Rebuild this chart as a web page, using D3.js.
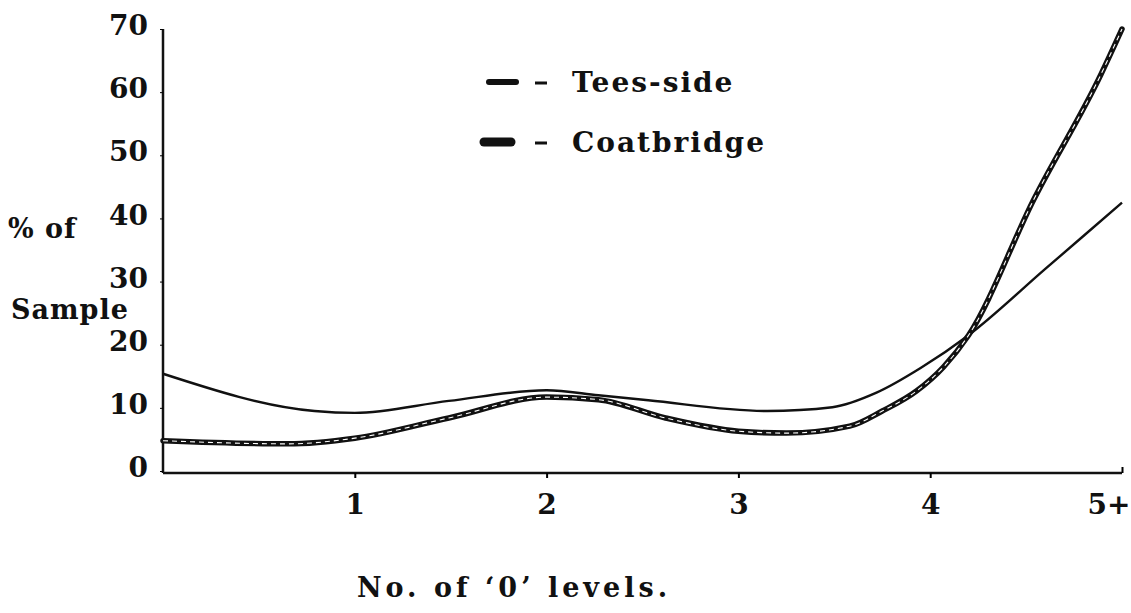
<!DOCTYPE html>
<html>
<head>
<meta charset="utf-8">
<script src="https://cdn.jsdelivr.net/npm/d3@7"></script>
<style>
body{margin:0;background:#fff;}
text{font-family:'DejaVu Serif',serif;fill:#111;font-weight:bold;}
</style>
</head>
<body>
<div id="chartContainer"></div>
<script>
// x categories and tick text
var LEVELS = [1, 2, 3, 4, 5];
var LEVEL_LABELS = ['1', '2', '3', '4', '5+'];
var PCT_TICKS = [0, 10, 20, 30, 40, 50, 60, 70];

// curves (x = no. of levels, y = % of sample)
var teesX = [0, 0.79, 1, 1.49, 2, 2.27, 2.53, 3.15, 3.49, 3.72, 3.95, 4.2, 4.6, 5];
var teesY = [15.4, 9.5, 9.2, 11.1, 12.8, 12.0, 11.2, 9.5, 10.1, 12.4, 16.3, 21.5, 32, 42.5];
var coatX = [0, 0.65, 1, 1.49, 2, 2.27, 2.62, 3, 3.25, 3.58, 3.75, 3.93, 4.07, 4.2, 4.54, 4.89, 5];
var coatY = [4.8, 4.3, 5.2, 8.4, 11.7, 11.3, 8.4, 6.3, 6.0, 7.1, 9.5, 12.7, 16.5, 21.5, 43, 62.8, 70];
var SERIES_NAMES = ['Tees-side', 'Coatbridge'];

function drawChart(){
	var width = 1131, height = 613;
	var svg = d3.select('#chartContainer').append('svg')
		.attr('width', width)
		.attr('height', height);

	var x = d3.scaleLinear().domain([0, 5]).range([163, 1122]);
	var y = d3.scaleLinear().domain([0, 70]).range([471, 29]);

	// axes drawn by hand-ish so they look like the print
	svg.append('line')
		.attr('x1', x(0)).attr('x2', x(0))
		.attr('y1', y(70)).attr('y2', y(0) + 2)
		.attr('stroke', '#111').attr('stroke-width', 2.5);
	svg.append('line')
		.attr('x1', x(0)).attr('x2', x(5))
		.attr('y1', y(0) + 2).attr('y2', y(0) + 2)
		.attr('stroke', '#111').attr('stroke-width', 2.5);

	var yAxis = d3.axisLeft(y).tickValues(PCT_TICKS).tickSize(3).tickPadding(12);
	var gy = svg.append('g').attr('transform', 'translate(' + x(0) + ',0)').call(yAxis);
	gy.select('.domain').remove();
	gy.selectAll('text')
		.attr('dy', '0.2em')
		.style('font-size', '28px')
		.style('font-weight', 'bold')
		.style('font-family', "'DejaVu Serif',serif");

	var xAxis = d3.axisBottom(x).tickValues(LEVELS)
		.tickFormat(function(d, i) { return LEVEL_LABELS[i]; })
		.tickSize(5).tickPadding(16);
	var gx = svg.append('g').attr('transform', 'translate(0,' + (y(0) + 2) + ')').call(xAxis);
	gx.select('.domain').remove();
	gx.selectAll('line').attr('stroke-width', 2);
	gx.selectAll('text')
		.style('font-size', '28px')
		.style('font-weight', 'bold')
		.style('font-family', "'DejaVu Serif',serif");
	// last tick points up, like the end mark in the print; its label is squeezed to the edge
	var lastTick = gx.selectAll('.tick').filter(function(d) { return d === 5; });
	lastTick.select('line').attr('y2', -6);
	lastTick.select('text').attr('text-anchor', 'end').attr('x', width - x(5) - 1);

	// axis titles
	svg.append('text').attr('x', 8).attr('y', 238)
		.style('font-size', '27px').style('letter-spacing', '1px').text('% of');
	svg.append('text').attr('x', 11).attr('y', 319)
		.style('font-size', '27px').style('letter-spacing', '1px').text('Sample');
	svg.append('text').attr('x', 514).attr('y', 597)
		.attr('text-anchor', 'middle')
		.style('font-size', '27px').style('letter-spacing', '4px')
		.text('No. of \u20180\u2019 levels.');

	var line = d3.line()
		.x(function(d) { return x(d[0]); })
		.y(function(d) { return y(d[1]); })
		.curve(d3.curveMonotoneX);

	var teesData = teesX.map(function(v, i) { return [v, teesY[i]]; });
	var coatData = coatX.map(function(v, i) { return [v, coatY[i]]; });

	svg.append('path').datum(teesData)
		.attr('d', line)
		.attr('fill', 'none').attr('stroke', '#111').attr('stroke-width', 2.4);

	svg.append('path').datum(coatData)
		.attr('d', line)
		.attr('fill', 'none').attr('stroke', '#111').attr('stroke-width', 5.5)
		.attr('stroke-linecap', 'round');
	// white core of the double-ruled line
	svg.append('path').datum(coatData)
		.attr('d', line)
		.attr('fill', 'none').attr('stroke', '#fff').attr('stroke-width', 1.1)
		.attr('stroke-dasharray', '5,4');

	// legend
	var legend = svg.append('g');
	var rows = [{name: SERIES_NAMES[0], y: 82, x1: 489, x2: 516, w: 6},
		{name: SERIES_NAMES[1], y: 142, x1: 484, x2: 511, w: 9}];
	rows.forEach(function(r) {
		legend.append('line')
			.attr('x1', r.x1).attr('x2', r.x2).attr('y1', r.y).attr('y2', r.y)
			.attr('stroke', '#111').attr('stroke-width', r.w)
			.attr('stroke-linecap', 'round');
		legend.append('line')
			.attr('x1', 535).attr('x2', 547).attr('y1', r.y + 1).attr('y2', r.y + 1)
			.attr('stroke', '#111').attr('stroke-width', 3);
		legend.append('text')
			.attr('x', 572).attr('y', r.y + 10)
			.style('font-size', '28px').style('letter-spacing', '2px')
			.text(r.name);
	});
}

drawChart();
</script>
</body>
</html>
